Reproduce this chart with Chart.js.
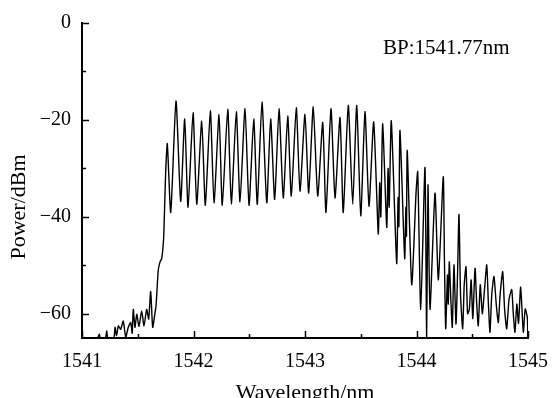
<!DOCTYPE html>
<html>
<head>
<meta charset="utf-8">
<script src="https://cdn.jsdelivr.net/npm/chart.js@4.4.1/dist/chart.umd.min.js"></script>
<style>
html, body { margin: 0; padding: 0; background: #fff; }
#wrap { width: 552px; height: 398px; }
</style>
</head>
<body>
<div id="wrap"><canvas id="spectrum"></canvas></div>
<script>
// wavelength (nm) and power (dBm)
const wavelength = [
	1541.140, 1541.155, 1541.165, 1541.210, 1541.222, 1541.232, 1541.285, 1541.296, 1541.310, 1541.326,
	1541.347, 1541.370, 1541.392, 1541.415, 1541.437, 1541.450, 1541.460, 1541.475, 1541.491, 1541.511,
	1541.535, 1541.556, 1541.580, 1541.598, 1541.616, 1541.634, 1541.655, 1541.664, 1541.684, 1541.700,
	1541.715, 1541.729, 1541.735, 1541.750, 1541.765, 1541.796, 1541.843, 1541.885, 1541.921, 1541.951,
	1541.996, 1542.029, 1542.074, 1542.106, 1542.151, 1542.184, 1542.229, 1542.258, 1542.307, 1542.339,
	1542.384, 1542.417, 1542.462, 1542.498, 1542.540, 1542.572, 1542.614, 1542.657, 1542.692, 1542.728,
	1542.767, 1542.805, 1542.845, 1542.877, 1542.922, 1542.955, 1543.000, 1543.033, 1543.074, 1543.114,
	1543.159, 1543.188, 1543.233, 1543.269, 1543.314, 1543.343, 1543.388, 1543.428, 1543.464, 1543.500,
	1543.538, 1543.574, 1543.616, 1543.657, 1543.670, 1543.680, 1543.697, 1543.733, 1543.745, 1543.755,
	1543.774, 1543.822, 1543.835, 1543.842, 1543.852, 1543.894, 1543.905, 1543.910, 1543.917, 1543.957,
	1543.996, 1544.011, 1544.038, 1544.076, 1544.091, 1544.103, 1544.121, 1544.166, 1544.196, 1544.240,
	1544.250, 1544.262, 1544.278, 1544.285, 1544.294, 1544.308, 1544.321, 1544.336, 1544.354, 1544.368,
	1544.381, 1544.395, 1544.414, 1544.428, 1544.444, 1544.458, 1544.474, 1544.490, 1544.505, 1544.525,
	1544.540, 1544.554, 1544.572, 1544.590, 1544.610, 1544.630, 1544.645, 1544.659, 1544.675, 1544.695,
	1544.715, 1544.734, 1544.750, 1544.773, 1544.790, 1544.809, 1544.830, 1544.854, 1544.868, 1544.883,
	1544.900, 1544.915, 1544.934, 1544.958, 1544.975, 1544.994, 1544.998,
];
const power = [
	-65.0, -64.2, -65.0, -65.0, -63.5, -65.0, -65.0, -62.8, -64.5, -62.5,
	-63.2, -61.5, -64.8, -62.8, -61.8, -64.0, -59.1, -62.8, -60.1, -62.6,
	-59.4, -62.5, -59.1, -61.1, -55.4, -62.8, -59.8, -58.4, -51.0, -49.3,
	-48.6, -45.5, -42.8, -31.0, -24.9, -39.1, -16.1, -36.8, -19.8, -38.0,
	-18.5, -37.4, -20.2, -37.6, -18.1, -37.1, -18.9, -37.6, -17.8, -37.3,
	-18.3, -36.9, -17.7, -37.6, -19.8, -37.4, -16.3, -37.1, -19.8, -36.4,
	-17.7, -36.1, -19.2, -35.7, -17.5, -34.7, -18.8, -35.1, -17.3, -35.7,
	-20.5, -39.1, -17.7, -36.1, -19.5, -39.1, -17.0, -37.4, -17.0, -39.8,
	-18.3, -37.8, -20.4, -43.5, -33.0, -40.0, -20.8, -42.2, -30.0, -38.0,
	-20.2, -49.6, -36.0, -42.0, -22.2, -48.6, -38.0, -44.0, -26.3, -54.0,
	-35.0, -30.7, -59.1, -29.8, -64.8, -33.4, -59.1, -35.1, -53.0, -31.7,
	-48.0, -63.1, -52.0, -58.0, -49.3, -57.0, -62.8, -49.9, -62.1, -52.0,
	-39.5, -56.0, -63.1, -54.0, -50.3, -60.0, -59.1, -53.0, -61.0, -50.6,
	-58.0, -62.5, -54.0, -60.0, -55.0, -49.9, -58.0, -63.8, -56.0, -52.3,
	-58.0, -61.8, -56.0, -51.3, -59.0, -63.1, -57.0, -55.0, -60.0, -63.8,
	-58.0, -62.0, -54.5, -63.8, -59.0, -60.8, -65.0,
];
const xTicks = [1541, 1542, 1543, 1544, 1545];
const xMinorTicks = [1541.5, 1542.5, 1543.5, 1544.5];
const yTicks = [-60, -40, -20, 0];
const yMinorTicks = [-50, -30, -10];
const bandpassLabel = "BP:1541.77nm";

const serif = "'Liberation Serif', 'DejaVu Serif', serif";
const points = wavelength.map((w, i) => ({x: w, y: power[i]}));

// tick marks on this chart point into the plot, so draw them by hand
const innerTicks = {
	id: "innerTicks",
	afterDraw(chart) {
		const {ctx, chartArea, scales} = chart;
		ctx.save();
		ctx.strokeStyle = "#000";
		ctx.lineWidth = 1.5;
		ctx.beginPath();
		for (const v of xTicks) {
			const px = Math.round(scales.x.getPixelForValue(v)) + 0.5;
			ctx.moveTo(px, chartArea.bottom);
			ctx.lineTo(px, chartArea.bottom - 7);
		}
		for (const v of xMinorTicks) {
			const px = Math.round(scales.x.getPixelForValue(v)) + 0.5;
			ctx.moveTo(px, chartArea.bottom);
			ctx.lineTo(px, chartArea.bottom - 4);
		}
		for (const v of yTicks) {
			const py = Math.round(scales.y.getPixelForValue(v)) + 0.5;
			ctx.moveTo(chartArea.left, py);
			ctx.lineTo(chartArea.left + 7, py);
		}
		for (const v of yMinorTicks) {
			const py = Math.round(scales.y.getPixelForValue(v)) + 0.5;
			ctx.moveTo(chartArea.left, py);
			ctx.lineTo(chartArea.left + 4, py);
		}
		ctx.stroke();

		ctx.fillStyle = "#000";
		ctx.font = "21px " + serif;
		ctx.textBaseline = "alphabetic";
		ctx.textAlign = "left";
		ctx.fillText(bandpassLabel, scales.x.getPixelForValue(1543.70), 54);

		// y title sits lower than the middle of the axis
		ctx.translate(19, 207);
		ctx.rotate(-Math.PI / 2);
		ctx.textAlign = "center";
		ctx.textBaseline = "middle";
		ctx.font = "22px " + serif;
		ctx.fillText("Power/dBm", 0, 0);
		ctx.restore();
	},
};

new Chart(document.querySelector("#spectrum"), {
	type: "line",
	data: {
		datasets: [{
			data: points,
			borderColor: "#000",
			borderWidth: 1.4,
			pointRadius: 0,
			tension: 0.2,
		}],
	},
	options: {
		animation: false,
		responsive: true,
		maintainAspectRatio: false,
		layout: {padding: {top: 19, right: 24, left: 0, bottom: 0}},
		plugins: {legend: {display: false}, tooltip: {enabled: false}},
		scales: {
			x: {
				type: "linear",
				min: 1541,
				max: 1545,
				afterBuildTicks(scale) {
					scale.ticks = xTicks.map(v => ({value: v}));
				},
				afterFit(scale) {
					scale.height = 60;
					scale.paddingLeft = 0;
					scale.paddingRight = 0;
				},
				grid: {display: false, drawTicks: false},
				border: {display: true, color: "#000", width: 2},
				ticks: {
					padding: 12,
					color: "#000",
					font: {family: serif, size: 20},
					callback: v => String(v),
				},
				title: {
					display: true,
					text: "Wavelength/nm",
					color: "#000",
					font: {family: serif, size: 22, lineHeight: 1},
					padding: {top: 0, bottom: -6},
				},
			},
			y: {
				type: "linear",
				min: -65,
				max: 0,
				afterBuildTicks(scale) {
					scale.ticks = yTicks.map(v => ({value: v}));
				},
				afterFit(scale) {
					scale.width = 82;
				},
				grid: {display: false, drawTicks: false},
				border: {display: true, color: "#000", width: 2},
				ticks: {
					padding: 11,
					color: "#000",
					font: {family: serif, size: 20},
					callback: v => (v < 0 ? "\u2212" + Math.abs(v) : String(v)),
				},
			},
		},
	},
	plugins: [innerTicks],
});
</script>
</body>
</html>
